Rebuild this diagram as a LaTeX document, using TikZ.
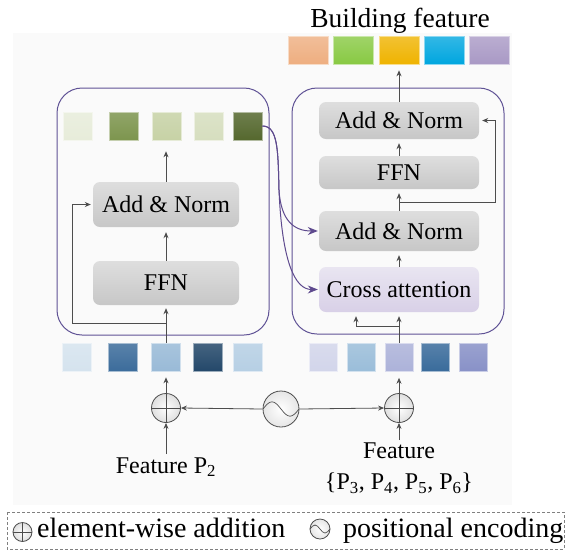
\documentclass[tikz,border=0pt]{standalone}
\usepackage{fontspec}
\setmainfont{Liberation Serif}
\usepackage{xcolor}
\usetikzlibrary{arrows.meta,positioning}

\definecolor{linegray}{HTML}{4D4D4D}
\definecolor{framepurple}{HTML}{5F5295}
\definecolor{flowpurple}{HTML}{5E4A8E}
\definecolor{boxtop}{HTML}{DEDEDE}
\definecolor{boxbot}{HTML}{C7C7C7}
\definecolor{catop}{HTML}{E9E5F1}
\definecolor{cabot}{HTML}{D8D0E7}
\definecolor{bgray}{HTML}{FAFAFA}
% output tokens
\definecolor{bfA}{HTML}{EEAE80}
\definecolor{bfB}{HTML}{88C943}
\definecolor{bfC}{HTML}{EFB300}
\definecolor{bfD}{HTML}{00A6DF}
\definecolor{bfE}{HTML}{A999C5}
% P2 tokens after encoder
\definecolor{gnA}{HTML}{E7ECDA}
\definecolor{gnB}{HTML}{7D954E}
\definecolor{gnC}{HTML}{C7D2A6}
\definecolor{gnD}{HTML}{D6DEBF}
\definecolor{gnE}{HTML}{55682E}
% input tokens
\definecolor{blA}{HTML}{D5E3EE}
\definecolor{blB}{HTML}{3C6C9B}
\definecolor{blC}{HTML}{99BAD7}
\definecolor{blD}{HTML}{24486A}
\definecolor{blE}{HTML}{B6CFE4}
\definecolor{prA}{HTML}{D2D5EA}
\definecolor{prB}{HTML}{9ABDD9}
\definecolor{prC}{HTML}{ACB2D9}
\definecolor{prD}{HTML}{396B9B}
\definecolor{prE}{HTML}{8891C7}

\begin{document}
\begin{tikzpicture}[
    x=1pt, y=-1pt,
    box/.style={rectangle, rounded corners=7pt, top color=boxtop, bottom color=boxbot, inner sep=0pt, font=\fontsize{24}{26}\selectfont},
    crossbox/.style={box, top color=catop, bottom color=cabot},
    frame/.style={rectangle, rounded corners=25pt, draw=framepurple, line width=1pt, inner sep=0pt},
    sq/.style={rectangle, inner sep=0pt, minimum width=29pt, minimum height=28pt},
    arrow/.style={-{Stealth[length=6pt,width=5pt]}, draw=linegray, line width=0.8pt},
    flow/.style={-{Stealth[length=10pt,width=8pt]}, draw=flowpurple, line width=1pt},
    addop/.style={circle, draw=linegray, line width=0.8pt, inner sep=0pt, minimum size=#1, inner color=white, outer color=gray!25,
        path picture={\draw[linegray, line width=0.7pt] (path picture bounding box.north) -- (path picture bounding box.south)
            (path picture bounding box.west) -- (path picture bounding box.east);}},
    posenc/.style={circle, draw=linegray, line width=0.8pt, inner sep=0pt, minimum size=2*#1, inner color=white, outer color=gray!20,
        path picture={\draw[linegray, line width=0.7pt] (path picture bounding box.west) sin ++({#1/2},{0.4*#1}) cos ++({#1/2},{-0.4*#1})
            sin ++({#1/2},{-0.4*#1}) cos ++({#1/2},{0.4*#1});}},
    label/.style={font=\fontsize{24}{31}\selectfont, inner sep=3pt},
    legtext/.style={font=\fontsize{28}{30}\selectfont, inner sep=0pt, anchor=base west}
]
    \useasboundingbox (0,0) rectangle (565,550);
    \fill[bgray] (13,33) rectangle (512,505);

    % encoder frames
    \node[frame, minimum width=212pt, minimum height=247pt] (lenc) at (163,211.5) {};
    \node[frame, minimum width=212pt, minimum height=246pt] (denc) at (398,211) {};

    % left branch
    \node[box, minimum width=146pt, minimum height=45pt] (lan) at (166,204.5) {Add \& Norm};
    \node[box, minimum width=146pt, minimum height=44pt] (lffn) at (166,283) {FFN};

    % right branch
    \node[box, minimum width=160pt, minimum height=37pt] (ran1) at (399,120.5) {Add \& Norm};
    \node[box, minimum width=160pt, minimum height=33pt] (rffn) at (399,172.5) {FFN};
    \node[box, minimum width=160pt, minimum height=40pt] (ran2) at (399,231) {Add \& Norm};
    \node[crossbox, minimum width=160pt, minimum height=45pt] (ca) at (399,289.5) {Cross attention};

    % tokens
    \foreach \n/\x/\c in {1/308/bfA, 2/353/bfB, 3/399/bfC, 4/444/bfD, 5/489/bfE}
        \node[sq, minimum width=40pt, top color=\c!80!white, bottom color=\c, draw=\c!45!white, line width=0.6pt] (t\n) at (\x,50) {};
    \foreach \n/\x/\c in {1/77.5/gnA, 2/124/gnB, 3/166.5/gnC, 4/208.5/gnD, 5/247.5/gnE}
        \node[sq, top color=\c!85!white, bottom color=\c, draw=\c!45!white, line width=0.6pt] (g\n) at (\x,126) {};
    \foreach \n/\x/\c in {1/77/blA, 2/123/blB, 3/166/blC, 4/207.5/blD, 5/247.5/blE}
        \node[sq, top color=\c!85!white, bottom color=\c, draw=\c!45!white, line width=0.6pt] (p\n) at (\x,357) {};
    \foreach \n/\x/\c in {1/323.5/prA, 2/361/prB, 3/399/prC, 4/435.5/prD, 5/473.5/prE}
        \node[sq, minimum width=28pt, top color=\c!85!white, bottom color=\c, draw=\c!45!white, line width=0.6pt] (q\n) at (\x,357.5) {};

    \node[font=\fontsize{27.5}{30}\selectfont, anchor=base, inner sep=0pt] (title) at (400,27) {Building feature};

    % operators and inputs
    \node[addop=29pt] (pl) at (166,408) {};
    \node[addop=29pt] (pr) at (399,408) {};
    \node[posenc=18pt] (pe) at (281,409) {};
    \node[label, anchor=base] (fl) at (166,473) {Feature P\textsubscript{2}};
    \node[label, anchor=north, align=center] (fr) at (399,440) {Feature\\\{P\textsubscript{3}, P\textsubscript{4}, P\textsubscript{5}, P\textsubscript{6}\}};

    \coordinate (lsplit) at (166,323);
    \coordinate (rsplit) at (399,202);
    \coordinate (rsplit2) at (399,326);

    % connectors, left
    \draw[arrow, shorten >=3pt] (p3.north) -- (lffn.south);
    \draw[arrow, shorten >=2pt] (lsplit) -- ++(-94,0) |- (lan.west);
    \draw[arrow, shorten >=5pt] (lffn.north) -- (lan.south);
    \draw[arrow, shorten >=11pt] (lan.north) -- (lan.north |- g3.south);

    % connectors, right
    \draw[arrow, shorten >=4pt] (q3.north) -- (ca.south);
    \draw[arrow, shorten >=4pt] (rsplit2) -| ([xshift=-43pt]ca.south);
    \draw[arrow, shorten >=4pt] (ca.north) -- (ran2.south);
    \draw[arrow, shorten >=4pt] (ran2.north) -- (rffn.south);
    \draw[arrow, shorten >=3pt] (rsplit) -- ++(96,0) |- (ran1.east);
    \draw[arrow, shorten >=4pt] (rffn.north) -- (ran1.south);
    \draw[arrow, shorten >=6pt] (ran1.north) -- (ran1.north |- t3.south);

    % encoded P2 into the decoder
    \draw[flow, shorten >=1pt] (g5.east) .. controls (278,126) and (278,150) .. (279,190)
        .. controls (281,222) and (295,231) .. (ran2.west);
    \draw[flow, shorten >=1pt] (g5.east) .. controls (278,126) and (278,150) .. (279,190)
        .. controls (282,262) and (295,289.5) .. (ca.west);

    % positional encoding
    \draw[arrow] (pe.west) -- (pl.east);
    \draw[arrow] (pe.east) -- (pr.west);
    \draw[arrow, shorten >=6pt] (pl.north) -- (p3.south);
    \draw[arrow, shorten >=6pt] (pr.north) -- (q3.south);
    \draw[arrow] (fl.north) -- (pl.south);
    \draw[arrow] (fr.north) -- (pr.south);

    % legend
    \draw[gray, line width=0.8pt, dash pattern=on 3pt off 2pt] (7,512) rectangle (564,549);
    \node[addop=19pt] (lgadd) at (22.5,532) {};
    \node[legtext] (lgaddtxt) at (37,537) {element-wise addition};
    \node[posenc=10pt] (lgpe) at (320,529) {};
    \node[legtext] (lgpetxt) at (343,537) {positional encoding};
\end{tikzpicture}
\end{document}
